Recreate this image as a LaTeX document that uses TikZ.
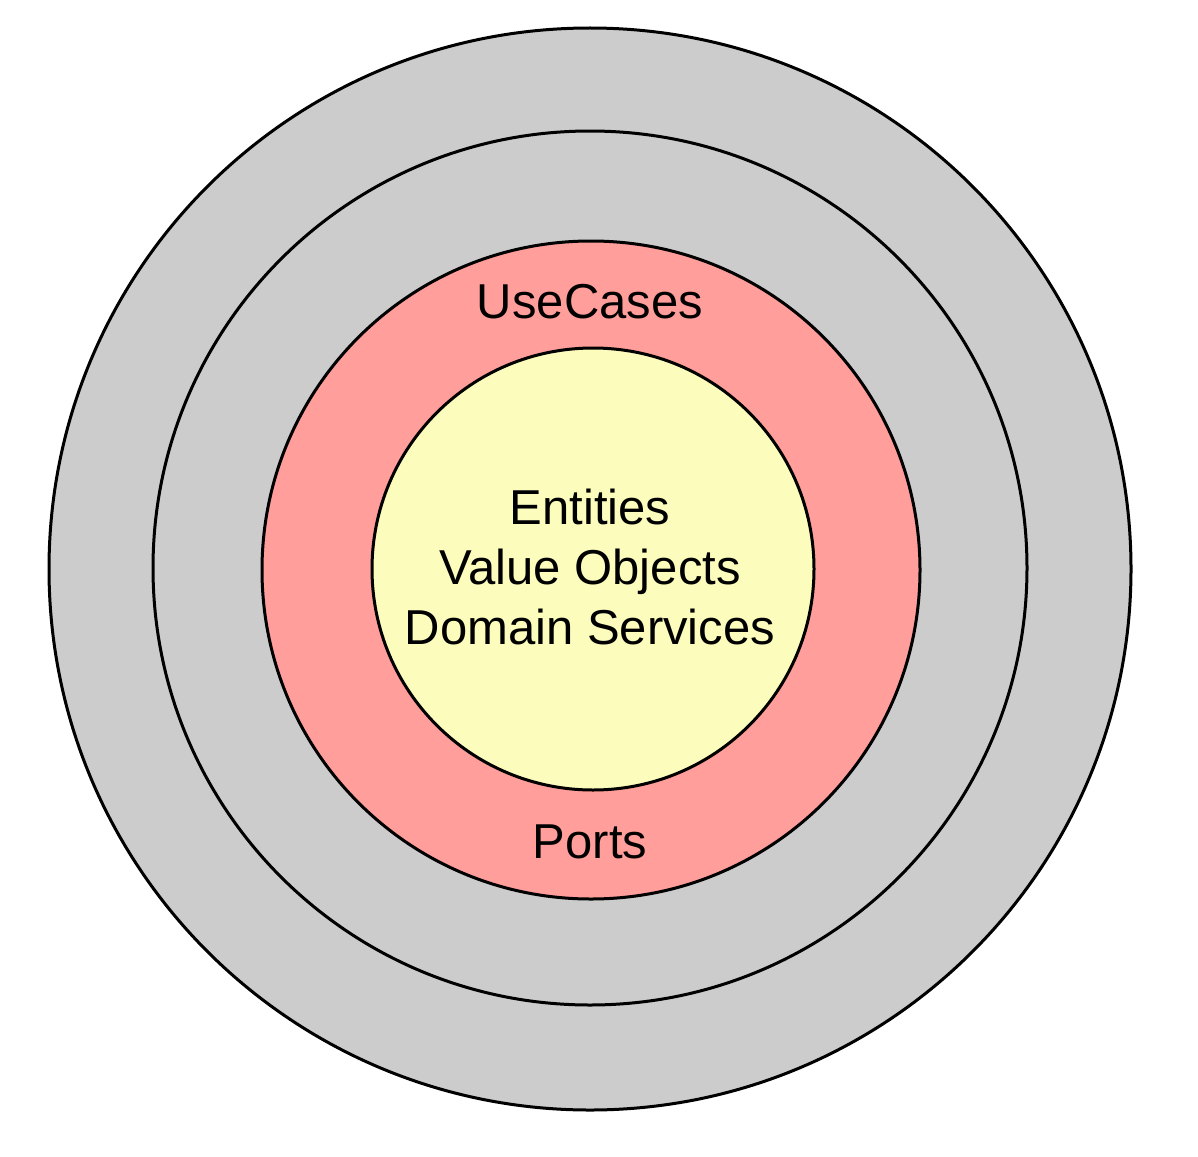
\documentclass[tikz,border=0pt]{standalone}
\usepackage{fontspec}
\setmainfont{Liberation Sans}
\begin{document}
\begin{tikzpicture}[x=0.5pt,y=-0.5pt,
  ring/.style={draw=black,line width=1.5pt},
  lbl/.style={font=\fontsize{24.5}{30}\selectfont,text=black,inner sep=0pt,anchor=base,align=center}]
\useasboundingbox (0,0) rectangle (1198,1156);
\fill[white] (0,0) rectangle (1198,1156);
\path[ring,fill={rgb,255:red,204;green,204;blue,204}] (590,569) circle[radius=270.5pt];
\path[ring,fill={rgb,255:red,204;green,204;blue,204}] (590,568) circle[radius=218.5pt];
\path[ring,fill={rgb,255:red,255;green,158;blue,154}] (591,570) circle[radius=164.5pt];
\path[ring,fill={rgb,255:red,252;green,252;blue,188}] (593,569) circle[radius=110.5pt];
\node[lbl] (usecases) at (590,318) {UseCases};
\node[lbl] (ports) at (590,858) {Ports};
\node[lbl,anchor=north] (core) at (590,489) {Entities\\Value Objects\\Domain Services};
\end{tikzpicture}
\end{document}
